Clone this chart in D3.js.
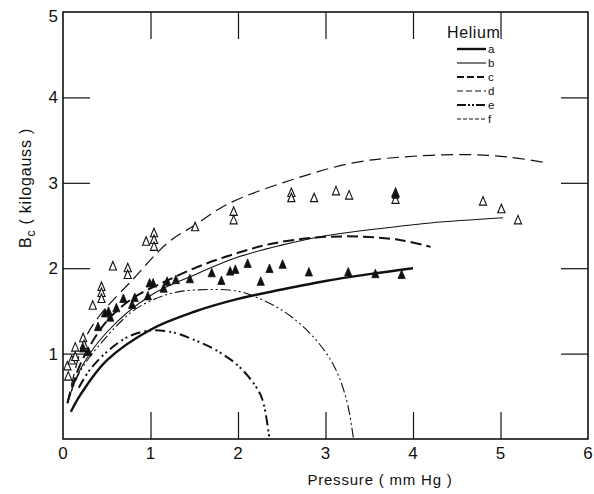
<!DOCTYPE html>
<html>
<head>
<meta charset="utf-8">
<script src="https://cdn.jsdelivr.net/npm/d3@7"></script>
<style>
  body { margin: 0; background: #fff; }
  text { font-family: 'Liberation Sans', 'DejaVu Sans', sans-serif; fill: #111; }
</style>
</head>
<body>
<svg width="594" height="494"></svg>
<script>
// Helium, critical field Bc vs pressure
const xTicks = [0, 1, 2, 3, 4, 5, 6];
const yTicks = [1, 2, 3, 4, 5];

const curveA = [[0.09, 0.32], [0.2, 0.52], [0.5, 0.92], [1, 1.28], [1.5, 1.49], [2, 1.64], [2.5, 1.75], [3, 1.85], [3.5, 1.93], [4, 2.0]];
const curveB = [[0.05, 0.42], [0.2, 0.82], [0.5, 1.25], [1, 1.68], [1.5, 1.92], [2, 2.13], [2.5, 2.27], [3, 2.38], [3.5, 2.45], [4.2, 2.53], [5.03, 2.59]];
const curveC = [[0.05, 0.42], [0.2, 0.88], [0.5, 1.38], [0.8, 1.65], [1.2, 1.86], [1.6, 2.04], [2, 2.18], [2.4, 2.29], [2.9, 2.36], [3.4, 2.37], [3.85, 2.33], [4.2, 2.25]];
const curveD = [[0.05, 0.42], [0.23, 1.12], [0.4, 1.42], [0.8, 1.87], [1.2, 2.3], [1.5, 2.5], [1.9, 2.76], [2.6, 3.03], [3.3, 3.23], [3.85, 3.3], [4.6, 3.33], [5.1, 3.3], [5.49, 3.24]];
const curveE = [[0.18, 0.6], [0.3, 0.8], [0.5, 1.02], [0.75, 1.2], [1, 1.27], [1.25, 1.25], [1.5, 1.16], [1.75, 1.04], [2, 0.86], [2.2, 0.62], [2.28, 0.46], [2.36, 0]];
const curveF = [[0.05, 0.42], [0.2, 0.8], [0.5, 1.2], [0.8, 1.5], [1.05, 1.64], [1.3, 1.72], [1.65, 1.75], [2, 1.73], [2.3, 1.62], [2.6, 1.44], [2.9, 1.15], [3.1, 0.85], [3.24, 0.46], [3.32, 0]];

const openX = [0.05, 0.06, 0.1, 0.14, 0.14, 0.23, 0.24, 0.34, 0.44, 0.44, 0.44, 0.57, 0.74, 0.74, 0.95, 1.04, 1.04, 1.04, 1.51, 1.95, 1.95, 2.61, 2.61, 2.87, 3.12, 3.27, 3.8, 3.8, 4.8, 5.01, 5.2];
const openY = [0.85, 0.73, 0.92, 1.07, 0.96, 1.18, 1.1, 1.56, 1.78, 1.71, 1.64, 2.02, 2.0, 1.92, 2.31, 2.41, 2.33, 2.25, 2.48, 2.66, 2.56, 2.88, 2.82, 2.82, 2.9, 2.85, 2.88, 2.8, 2.78, 2.69, 2.56];

const fillX = [0.23, 0.29, 0.4, 0.48, 0.52, 0.54, 0.61, 0.69, 0.79, 0.82, 0.97, 0.99, 1.03, 1.15, 1.19, 1.29, 1.45, 1.7, 1.81, 1.91, 1.97, 2.11, 2.26, 2.36, 2.51, 2.81, 3.26, 3.57, 3.8, 3.87];
const fillY = [1.06, 1.02, 1.31, 1.47, 1.49, 1.42, 1.53, 1.64, 1.57, 1.65, 1.67, 1.82, 1.82, 1.76, 1.84, 1.86, 1.87, 1.94, 1.85, 1.96, 1.98, 2.05, 1.84, 1.99, 2.04, 1.95, 1.95, 1.93, 2.86, 1.92];

const series = [
  { key: 'a', pts: curveA, width: 2.4, dash: null, legDash: null },
  { key: 'b', pts: curveB, width: 1.1, dash: null, legDash: null },
  { key: 'c', pts: curveC, width: 2.0, dash: '11,5', legDash: '7,3' },
  { key: 'd', pts: curveD, width: 1.2, dash: '12,6', legDash: '6,3' },
  { key: 'e', pts: curveE, width: 2.0, dash: '10,4,2,3,2,4', legDash: '9,2,2,2,2,2' },
  { key: 'f', pts: curveF, width: 1.1, dash: '10,3,2,3,2,3', legDash: '4,2' }
];

const svg = d3.select('svg');

const x = d3.scaleLinear().domain([0, 6]).range([63, 588]);
const y = d3.scaleLinear().domain([0, 5]).range([439, 12]);

// frame
svg.append('rect')
  .attr('x', x(0)).attr('y', y(5))
  .attr('width', x(6) - x(0)).attr('height', y(0) - y(5))
  .attr('fill', 'none').attr('stroke', '#111').attr('stroke-width', 1.6);

const tickLen = 27;

// bottom + top ticks (inside)
svg.append('g')
  .attr('transform', `translate(0, ${y(0)})`)
  .call(d3.axisBottom(x).tickValues(xTicks.slice(1, -1)).tickSize(-tickLen).tickFormat(''))
  .call(g => g.select('.domain').remove());
svg.append('g')
  .attr('transform', `translate(0, ${y(5)})`)
  .call(d3.axisTop(x).tickValues(xTicks.slice(1, -1)).tickSize(-tickLen).tickFormat(''))
  .call(g => g.select('.domain').remove());

// left + right ticks (inside)
svg.append('g')
  .attr('transform', `translate(${x(0)}, 0)`)
  .call(d3.axisLeft(y).tickValues(yTicks.slice(0, -1)).tickSize(-tickLen).tickFormat(''))
  .call(g => g.select('.domain').remove());
svg.append('g')
  .attr('transform', `translate(${x(6)}, 0)`)
  .call(d3.axisRight(y).tickValues(yTicks.slice(0, -1)).tickSize(-tickLen).tickFormat(''))
  .call(g => g.select('.domain').remove());

svg.selectAll('.tick line').attr('stroke', '#111').attr('stroke-width', 1.2);

// tick labels
svg.selectAll('.xlab')
  .data(xTicks)
  .enter().append('text')
  .attr('x', d => x(d))
  .attr('y', 459)
  .attr('text-anchor', 'middle')
  .style('font-size', '17px')
  .text(d => d);

svg.selectAll('.ylab')
  .data(yTicks)
  .enter().append('text')
  .attr('x', 58)
  .attr('y', d => y(d) + (d === 5 ? 10 : 6))
  .attr('text-anchor', 'end')
  .style('font-size', '17px')
  .text(d => d);

// axis titles
svg.append('text')
  .attr('x', 380)
  .attr('y', 485)
  .attr('text-anchor', 'middle')
  .style('font-size', '15px')
  .style('letter-spacing', '0.8px')
  .text('Pressure ( mm Hg )');

const yt = svg.append('text')
  .attr('transform', 'translate(31, 188) rotate(-90)')
  .attr('text-anchor', 'middle')
  .style('font-size', '16px')
  .style('letter-spacing', '0.8px');
yt.append('tspan').text('B');
yt.append('tspan').attr('dy', 4).style('font-size', '12px').text('c');
yt.append('tspan').attr('dy', -4).text(' ( kilogauss )');

// curves
const line = d3.line()
  .x(d => x(d[0]))
  .y(d => y(d[1]))
  .curve(d3.curveCatmullRom.alpha(0.5));

svg.selectAll('.curve')
  .data(series)
  .enter().append('path')
  .attr('class', 'curve')
  .attr('d', d => line(d.pts))
  .attr('fill', 'none')
  .attr('stroke', '#111')
  .attr('stroke-width', d => d.width)
  .attr('stroke-dasharray', d => d.dash);

// triangle markers
const tri = 'M0,-5L3.6,3.5L-3.6,3.5Z';

svg.selectAll('.open')
  .data(openX.map((v, i) => [v, openY[i]]))
  .enter().append('path')
  .attr('d', tri)
  .attr('transform', d => `translate(${x(d[0])}, ${y(d[1])})`)
  .attr('fill', '#fff')
  .attr('stroke', '#111')
  .attr('stroke-width', 1.1);

svg.selectAll('.filled')
  .data(fillX.map((v, i) => [v, fillY[i]]))
  .enter().append('path')
  .attr('d', tri)
  .attr('transform', d => `translate(${x(d[0])}, ${y(d[1])})`)
  .attr('fill', '#111')
  .attr('stroke', '#111')
  .attr('stroke-width', 0.8);

// legend
svg.append('text')
  .attr('x', 447)
  .attr('y', 38)
  .style('font-size', '16px')
  .style('letter-spacing', '0.6px')
  .text('Helium');

const legendY = d3.scalePoint().domain(series.map(s => s.key)).range([49, 119]);

const lg = svg.selectAll('.leg')
  .data(series)
  .enter().append('g')
  .attr('transform', d => `translate(0, ${legendY(d.key)})`);

lg.append('line')
  .attr('x1', 457).attr('x2', 486)
  .attr('stroke', '#111')
  .attr('stroke-width', d => d.width)
  .attr('stroke-dasharray', d => d.legDash);

lg.append('text')
  .attr('x', 488)
  .attr('y', 4)
  .style('font-size', '11.5px')
  .text(d => d.key);
</script>
</body>
</html>
